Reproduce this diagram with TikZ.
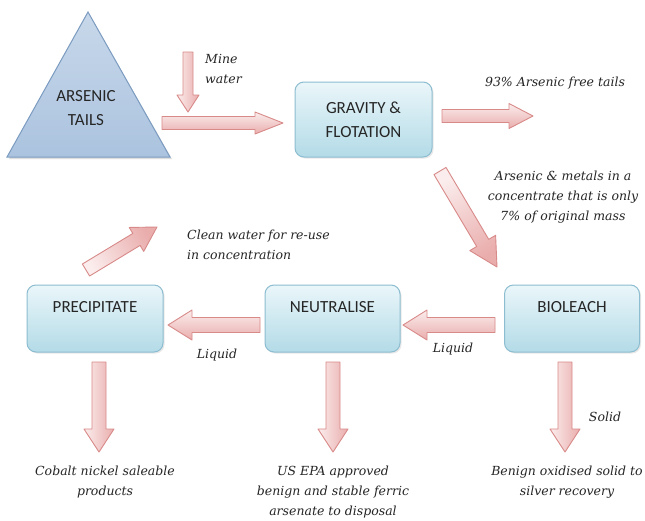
\documentclass[tikz,border=0pt]{standalone}
\usepackage{fontspec}
\setmainfont{DejaVu Serif}
\newfontfamily\boxfont{Carlito}
\usetikzlibrary{calc,shadows}
\definecolor{arrline}{HTML}{D88A89}
\definecolor{arrlight}{HTML}{FBEDED}
\definecolor{arrdark}{HTML}{E9ADAC}
\definecolor{boxtop}{HTML}{EAF6FA}
\definecolor{boxbot}{HTML}{B3DBE7}
\definecolor{boxline}{HTML}{8DBDD0}
\definecolor{tritop}{HTML}{C8D8EA}
\definecolor{tribot}{HTML}{ABC3DF}
\definecolor{triline}{HTML}{7B9BC0}
\definecolor{txt}{HTML}{262626}
\newcommand\blockarrow[6][]{%
  \coordinate (#2h) at ($(#3)!#6!(#2)$);
  \path[barrow,#1] ($(#2)!#4!90:(#3)$) -- ($(#2h)!#4!90:(#3)$) -- ($(#2h)!#5!90:(#3)$) -- (#3) -- ($(#2h)!#5!-90:(#3)$) -- ($(#2h)!#4!-90:(#3)$) -- ($(#2)!#4!-90:(#3)$) -- cycle;
}
\begin{document}
\begin{tikzpicture}[x=1pt,y=-1pt,
  barrow/.style={draw=arrline, line width=0.9pt, line join=round, left color=arrlight, right color=arrdark},
  boxtext/.style={font=\boxfont\fontsize{17}{24}\selectfont, text=txt, align=center, inner sep=0pt},
  pbox/.style={boxtext, draw=boxline, line width=1pt, rounded corners=9pt, top color=boxtop, bottom color=boxbot,
     drop shadow={opacity=0.18, shadow xshift=1.5pt, shadow yshift=-1.5pt}},
  lbl/.style={font=\itshape\fontsize{12.5}{19.8}\selectfont, text=txt, align=center, inner sep=0pt}]
\useasboundingbox[fill=white] (0,0) rectangle (645,520);

% triangle
\fill[black!25, opacity=0.5] (89,14) -- (172,159) -- (9,159) -- cycle;
\draw[triline, line width=1pt, top color=tritop, bottom color=tribot] (88,12) -- (170,157) -- (7,157) -- cycle;
\node[boxtext] (tails) at (86,108) {ARSENIC\\TAILS};

% boxes
\node[pbox, minimum width=137pt, minimum height=75pt] (grav) at (363.5,119.5) {GRAVITY \&\\FLOTATION};
\node[pbox, minimum width=136pt, minimum height=67pt, text depth=24pt] (prec) at (95,318.5) {PRECIPITATE};
\node[pbox, minimum width=135pt, minimum height=67pt, text depth=24pt] (neut) at (332.5,318.5) {NEUTRALISE};
\node[pbox, minimum width=135pt, minimum height=67pt, text depth=24pt] (bio) at (572,318.5) {BIOLEACH};

% labels
\node[lbl, anchor=west, align=left] (mine) at (205,69) {Mine\\water};
\node[lbl] (tails93) at (555,83) {93\% Arsenic free tails};
\node[lbl] (conc) at (563,197) {Arsenic \& metals in a\\concentrate that is only\\7\% of original mass};
\node[lbl, anchor=west, align=left] (clean) at (187,245) {Clean water for re-use\\in concentration};
\node[lbl] (liq1) at (217,355) {Liquid};
\node[lbl] (liq2) at (453,349) {Liquid};
\node[lbl] (solid) at (605,417) {Solid};
\node[lbl] (cobalt) at (105,482) {Cobalt nickel saleable\\products};
\node[lbl] (epa) at (333,492) {US EPA approved\\benign and stable ferric\\arsenate to disposal};
\node[lbl] (benign) at (567,482) {Benign oxidised solid to\\silver recovery};

% arrow end points
\coordinate (mws) at (188,52);   \coordinate (mwe) at (188,112);
\coordinate (tgs) at (162,123);  \coordinate (tge) at (283,123);
\coordinate (gts) at (442,116);  \coordinate (gte) at (533,116);
\coordinate (gbs) at (440,171);  \coordinate (gbe) at (497,267);
\coordinate (bns) at (495,325);  \coordinate (bne) at (403,325);
\coordinate (nps) at (260,325);  \coordinate (npe) at (168,325);
\coordinate (cws) at (86,270);   \coordinate (cwe) at (157,227);
\coordinate (pds) at (99,362);   \coordinate (pde) at (99,452);
\coordinate (nds) at (333,362);  \coordinate (nde) at (333,452);
\coordinate (bds) at (565,362);  \coordinate (bde) at (565,452);

\blockarrow{mws}{mwe}{5pt}{11pt}{17pt}
\blockarrow[top color=arrlight, bottom color=arrdark]{tgs}{tge}{6.5pt}{11pt}{28pt}
\blockarrow[top color=arrlight, bottom color=arrdark]{gts}{gte}{6.5pt}{12.5pt}{24pt}
\blockarrow[shading angle=30]{gbs}{gbe}{7pt}{15pt}{28pt}
\blockarrow[top color=arrlight, bottom color=arrdark]{bns}{bne}{7.5pt}{15pt}{24pt}
\blockarrow[top color=arrlight, bottom color=arrdark]{nps}{npe}{7.5pt}{15pt}{24pt}
\blockarrow[shading angle=120]{cws}{cwe}{7pt}{14pt}{24pt}
\blockarrow{pds}{pde}{7pt}{15pt}{23pt}
\blockarrow{nds}{nde}{7pt}{15pt}{23pt}
\blockarrow{bds}{bde}{7pt}{15pt}{23pt}
\end{tikzpicture}
\end{document}
